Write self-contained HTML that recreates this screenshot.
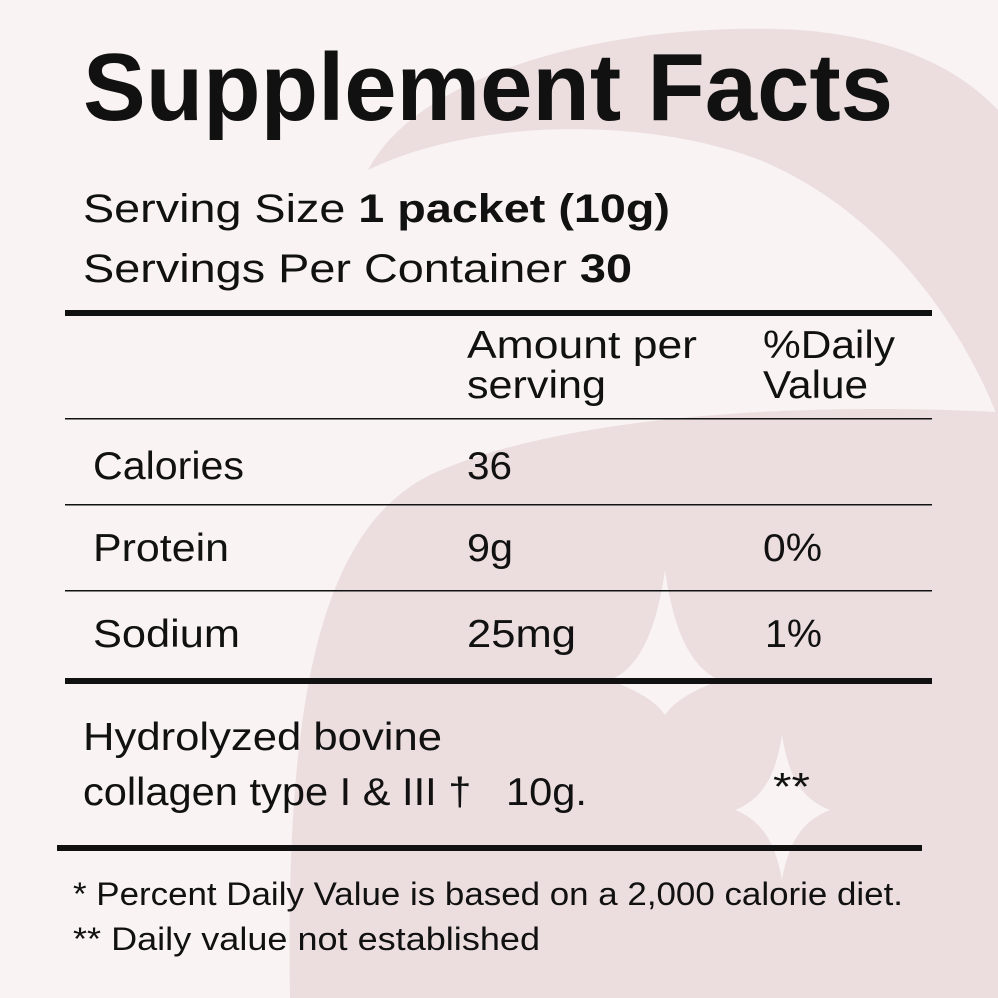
<!DOCTYPE html>
<html><head><style>html,body{margin:0;padding:0;background:#f9f3f3}svg{display:block}</style></head>
<body>
<svg width="998" height="998" viewBox="0 0 998 998" xmlns="http://www.w3.org/2000/svg" font-family="Liberation Sans, DejaVu Sans, sans-serif" fill="#111">
<rect width="998" height="998" fill="#f9f3f3"/>
<g fill="#ecdede">
<path d="M368,170 C420,70 620,20 800,30 C900,38 960,70 998,110 L998,418 C960,320 880,210 760,160 C640,115 470,120 368,170 Z"/>
<path d="M998,412 C800,402 560,415 430,475 C320,530 285,700 290,998 L998,998 Z"/>
</g>
<g fill="#f9f3f3">
<path d="M610,680 C635,670 655,640 665,570 C675,640 695,670 720,680 C695,690 675,700 665,715 C655,700 635,690 610,680 Z"/>
<path d="M735,810 C760,800 775,780 782,735 C789,780 804,800 830,810 C804,820 789,840 782,880 C775,840 760,820 735,810 Z"/>
</g>
<text x="83" y="120" font-weight="bold" font-size="96" textLength="810" lengthAdjust="spacingAndGlyphs">Supplement Facts</text>
<text x="83" y="222" font-size="40" textLength="587" lengthAdjust="spacingAndGlyphs">Serving Size <tspan font-weight="bold">1 packet (10g)</tspan></text>
<text x="83" y="282" font-size="40" textLength="549" lengthAdjust="spacingAndGlyphs">Servings Per Container <tspan font-weight="bold">30</tspan></text>
<rect x="65" y="310" width="867" height="6"/>
<g font-size="39">
<text x="467" y="358" textLength="230" lengthAdjust="spacingAndGlyphs">Amount per</text>
<text x="467" y="398" textLength="139" lengthAdjust="spacingAndGlyphs">serving</text>
<text x="763" y="358" textLength="132" lengthAdjust="spacingAndGlyphs">%Daily</text>
<text x="763" y="398" textLength="105" lengthAdjust="spacingAndGlyphs">Value</text>
</g>
<rect x="65" y="418" width="867" height="1.5"/>
<g font-size="39">
<text x="93" y="479" textLength="151" lengthAdjust="spacingAndGlyphs">Calories</text>
<text x="467" y="479" textLength="45" lengthAdjust="spacingAndGlyphs">36</text>
<text x="93" y="561" textLength="136" lengthAdjust="spacingAndGlyphs">Protein</text>
<text x="467" y="561" textLength="46" lengthAdjust="spacingAndGlyphs">9g</text>
<text x="763" y="561" textLength="59" lengthAdjust="spacingAndGlyphs">0%</text>
<text x="93" y="647" textLength="147" lengthAdjust="spacingAndGlyphs">Sodium</text>
<text x="467" y="647" textLength="109" lengthAdjust="spacingAndGlyphs">25mg</text>
<text x="765" y="647" textLength="57" lengthAdjust="spacingAndGlyphs">1%</text>
</g>
<rect x="65" y="504" width="867" height="1.5"/>
<rect x="65" y="590" width="867" height="1.5"/>
<rect x="65" y="678" width="867" height="6"/>
<g font-size="39">
<text x="83" y="750" textLength="359" lengthAdjust="spacingAndGlyphs">Hydrolyzed bovine</text>
<text x="83" y="805" textLength="504" lengthAdjust="spacingAndGlyphs" xml:space="preserve">collagen type I &amp; III †   10g.</text>
<text x="773" y="800" textLength="37" lengthAdjust="spacingAndGlyphs">**</text>
</g>
<rect x="57" y="845" width="865" height="6"/>
<g font-size="32">
<text x="73" y="905" textLength="830" lengthAdjust="spacingAndGlyphs">* Percent Daily Value is based on a 2,000 calorie diet.</text>
<text x="73" y="950" textLength="467" lengthAdjust="spacingAndGlyphs">** Daily value not established</text>
</g>
</svg>
</body></html>
